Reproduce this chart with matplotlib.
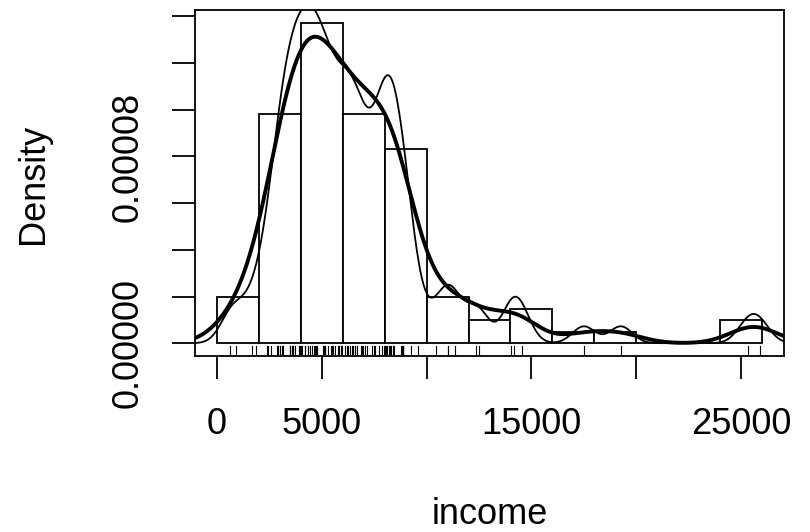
import numpy as np
import matplotlib
matplotlib.use("Agg")
import matplotlib.pyplot as plt

plt.rcParams['font.family'] = ['Liberation Sans', 'DejaVu Sans']

# Prestige occupational income values (rug / histogram data)
income = [12351, 25879, 9271, 8865, 8403, 11030, 8258, 14163, 11377, 11023,
          5902, 7059, 8425, 8049, 7405, 6336, 19263, 6112, 9593, 4686,
          12480, 5648, 8034, 25308, 14558, 17498, 4614, 3485, 5092, 10432,
          5180, 6197, 7562, 8206, 4036, 3148, 4348, 2448, 4330, 4761,
          3016, 2901, 5511, 3739, 3161, 4741, 5052, 6259, 4075, 7482,
          8780, 2594, 918, 2370, 8131, 6992, 7956, 8895, 8891, 3116,
          3930, 7869, 611, 3000, 3472, 3582, 3643, 1656, 6860, 4199,
          5134, 5134, 1890, 4443, 3485, 8043, 6686, 6565, 6477, 5811,
          6573, 3942, 5449, 2847, 5795, 7716, 4696, 8316, 7147, 8880,
          5299, 5959, 4549, 6928, 3910, 14032, 8845, 5562, 4224, 4753,
          6462, 3617]
breaks = list(range(0, 26001, 2000))
x_ticks = [0, 5000, 10000, 15000, 20000, 25000]
x_labels = ["0", "5000", "", "15000", "", "25000"]
y_ticks = [0, 2e-5, 4e-5, 6e-5, 8e-5, 1.0e-4, 1.2e-4, 1.4e-4]
y_labels = ["0.00000", "", "", "", "0.00008", "", "", ""]
bw_adjust_thin = 0.5

x = np.asarray(income, dtype=float)
n = len(x)
q75, q25 = np.percentile(x, [75, 25])
bw = 0.9 * min(np.std(x, ddof=1), (q75 - q25) / 1.34) * n ** (-0.2)


def kde(data, h):
    g = np.linspace(data.min() - 3 * h, data.max() + 3 * h, 512)
    d = np.exp(-0.5 * ((g[:, None] - data[None, :]) / h) ** 2).sum(axis=1)
    return g, d / (len(data) * h * np.sqrt(2 * np.pi))


W, H = 810, 532
fig = plt.figure(figsize=(W / 100, H / 100), dpi=100)
L, R, T, B = 195, 784, 10, 356
ax = fig.add_axes([L / W, 1 - B / H, (R - L) / W, (B - T) / H])

counts, _, _ = ax.hist(income, bins=breaks, density=True, facecolor='white',
                       edgecolor='black', linewidth=1.3, zorder=1)
ymax = counts.max()
ax.set_xlim(-0.04 * 26000, 26000 * 1.04)
ax.set_ylim(-0.04 * ymax, 1.04 * ymax)

g1, d1 = kde(x, bw * bw_adjust_thin)
ax.plot(g1, d1, color='black', lw=1.3, zorder=3)
g2, d2 = kde(x, bw)
ax.plot(g2, d2, color='black', lw=2.8, zorder=3)

# rug
for v in income:
    ax.plot([v, v], [0.007, 0.03], transform=ax.get_xaxis_transform(),
             color='black', lw=0.8, zorder=2)

for s in ax.spines.values():
    s.set_linewidth(1.3)

ax.set_xticks(x_ticks)
ax.set_xticklabels(x_labels)
ax.set_yticks(y_ticks)
ax.set_yticklabels(y_labels)
ax.tick_params(axis='both', direction='out', length=16.5, width=1.3,
               labelsize=26, colors='black')
ax.tick_params(axis='x', pad=33)
ax.tick_params(axis='y', pad=32)
for lab in ax.get_xticklabels():
    lab.set_verticalalignment('center')
for lab in ax.get_yticklabels():
    lab.set_rotation(90)
    lab.set_horizontalalignment('center')
    lab.set_verticalalignment('center')

fig.text(33 / W, 1 - 184 / H, "Density", rotation=90, ha='center',
         va='center', fontsize=26)
fig.text(490 / W, 1 - 524 / H, "income", ha='center', va='baseline',
         fontsize=26)

fig.savefig("out.png", dpi=100)
